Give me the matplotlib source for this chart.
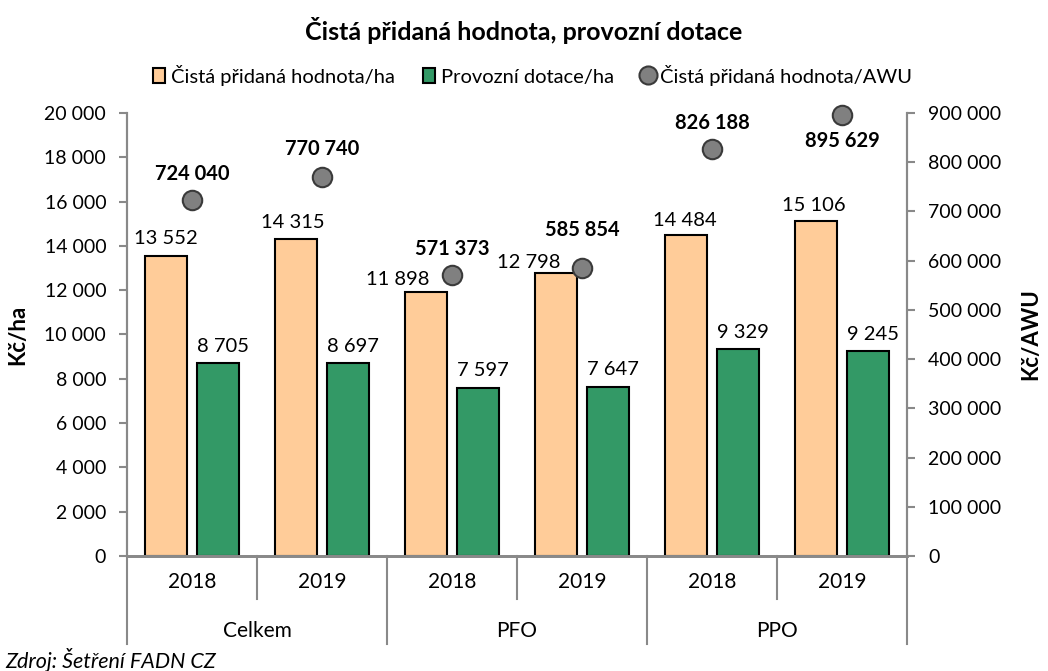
import numpy as np
import matplotlib
matplotlib.use("Agg")
import matplotlib.pyplot as plt
from matplotlib.patches import Patch
from matplotlib.lines import Line2D
from matplotlib.ticker import FuncFormatter, MultipleLocator

plt.rcParams['font.family'] = ['Lato', 'DejaVu Sans']

# data
years = ["2018", "2019", "2018", "2019", "2018", "2019"]
groups = ["Celkem", "PFO", "PPO"]
cph_ha = [13552, 14315, 11898, 12798, 14484, 15106]
dotace_ha = [8705, 8697, 7597, 7647, 9329, 9245]
cph_awu = [724040, 770740, 571373, 585854, 826188, 895629]

orange = "#FFCC99"
green = "#339966"
grey = "#808080"
axis_col = "#898989"

def fmt(v, pos=None):
    return f"{int(v):,}".replace(",", " ")

fig = plt.figure(figsize=(10.48, 6.71), dpi=100)
ax = fig.add_axes([0.1212, 0.1714, 0.7443, 0.6602])
ax2 = ax.twinx()

x = np.arange(len(years))
w = 0.33
off = 0.2
ax.bar(x - off, cph_ha, w, color=orange, edgecolor="black", linewidth=1.5, zorder=2)
ax.bar(x + off, dotace_ha, w, color=green, edgecolor="black", linewidth=1.5, zorder=2)
ax2.plot(x, cph_awu, "o", markersize=14, color=grey, markeredgecolor="#3a3a3a",
         markeredgewidth=1.5, zorder=3, clip_on=False)

ax.set_xlim(-0.5, 5.5)
ax.set_ylim(0, 20000)
ax2.set_ylim(0, 900000)
ax.yaxis.set_major_locator(MultipleLocator(2000))
ax2.yaxis.set_major_locator(MultipleLocator(100000))
ax.yaxis.set_major_formatter(FuncFormatter(fmt))
ax2.yaxis.set_major_formatter(FuncFormatter(fmt))

for a in (ax, ax2):
    a.spines["top"].set_visible(False)
    for s in ("left", "right", "bottom"):
        a.spines[s].set_color(axis_col)
        a.spines[s].set_linewidth(1.5)
    a.spines["bottom"].set_linewidth(2)
    a.tick_params(axis="y", direction="out", length=6, width=1.5, color=axis_col,
                  labelsize=14, pad=9)
ax.set_xticks([])
ax2.set_xticks([])

ax.set_ylabel("Kč/ha", fontsize=16, fontweight="bold", labelpad=12)
ax2.set_ylabel("Kč/AWU", fontsize=16, fontweight="bold", labelpad=14)

# data labels (offsets in pixels)
orange_dx = [0, -3, -28, -27, -1, -2]
orange_dy = [17, 16, 13, 10, 15, 16]
for i, v in enumerate(cph_ha):
    ax.annotate(fmt(v), (x[i] - off, v), xytext=(orange_dx[i], orange_dy[i]),
                textcoords="offset pixels", ha="center", va="center", fontsize=14.5)
for i, v in enumerate(dotace_ha):
    ax.annotate(fmt(v), (x[i] + off, v), xytext=(5, 17), textcoords="offset pixels",
                ha="center", va="center", fontsize=14.5)
awu_dy = [26, 28, 26, 38, 26, -26]
for i, v in enumerate(cph_awu):
    ax2.annotate(fmt(v), (x[i], v), xytext=(0, awu_dy[i]), textcoords="offset pixels",
                 ha="center", va="center", fontsize=14.5, fontweight="bold")

# category axis
tr = ax.get_xaxis_transform()
for b in [0.5, 2.5, 4.5]:
    ax.plot([b, b], [0, -0.097], color=axis_col, lw=1.5, transform=tr, clip_on=False)
for b in [-0.5, 1.5, 3.5, 5.5]:
    ax.plot([b, b], [0, -0.199], color=axis_col, lw=1.5, transform=tr, clip_on=False)
for i, y in enumerate(years):
    ax.text(x[i], -0.059, y, transform=tr, ha="center", va="center", fontsize=15)
for j, g in enumerate(groups):
    ax.text(2 * j + 0.5, -0.169, g, transform=tr, ha="center", va="center", fontsize=15)

fig.text(0.5, 0.955, "Čistá přidaná hodnota, provozní dotace", ha="center", va="center",
         fontsize=18, fontweight="bold")
handles = [Patch(facecolor=orange, edgecolor="black", linewidth=1.5),
           Patch(facecolor=green, edgecolor="black", linewidth=1.5),
           Line2D([], [], marker="o", ls="", markersize=13, color=grey,
                  markeredgecolor="#3a3a3a", markeredgewidth=1.5)]
fig.legend(handles, ["Čistá přidaná hodnota/ha", "Provozní dotace/ha", "Čistá přidaná hodnota/AWU"],
           loc="center", bbox_to_anchor=(0.508, 0.888), ncol=3, frameon=False, fontsize=14.5,
           handlelength=0.6, handleheight=0.8, handletextpad=0.3, columnspacing=1.4)
fig.text(0.005, 0.016, "Zdroj: Šetření FADN CZ", ha="left", va="center", fontsize=15.5, style="italic")

fig.savefig("out.png", dpi=100)
